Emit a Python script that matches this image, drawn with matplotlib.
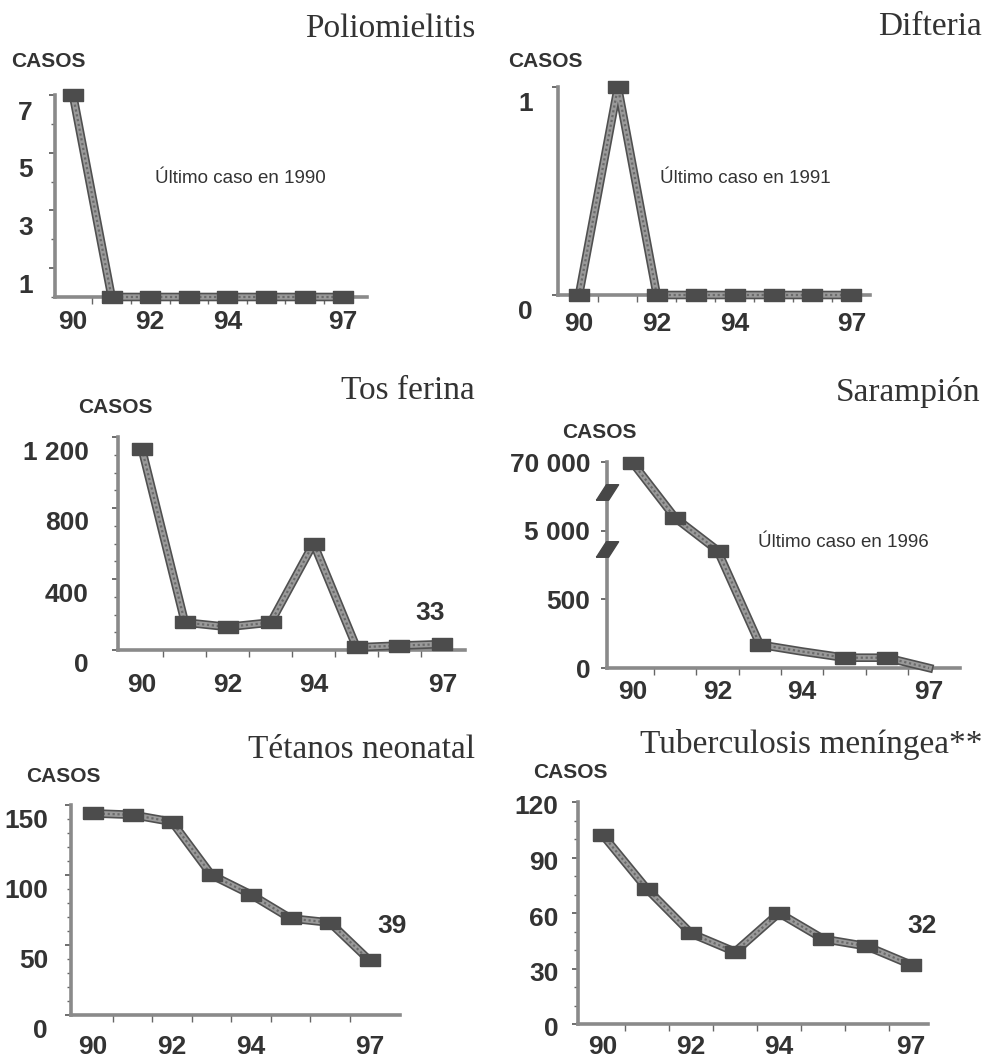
import numpy as np
import matplotlib
matplotlib.use("Agg")
import matplotlib.pyplot as plt
import matplotlib.patheffects as pe
from matplotlib import transforms

plt.rcParams["font.family"] = ["Liberation Sans", "DejaVu Sans"]

# casos por año, 1990-1997
years = [1990, 1991, 1992, 1993, 1994, 1995, 1996, 1997]
polio = [7, 0, 0, 0, 0, 0, 0, 0]
difteria = [0, 1, 0, 0, 0, 0, 0, 0]
tos_ferina = [1130, 155, 130, 155, 600, 15, 25, 33]
sarampion = [68800, 17000, 3700, 170, 120, 75, 75, 0]
tetanos = [144, 143, 138, 100, 86, 69, 66, 39]
tuberculosis = [102, 73, 49, 39, 60, 46, 42, 32]

year_ticks = [1990, 1992, 1994, 1997]
year_labels = ["90", "92", "94", "97"]

W, H = 985, 1057
fig = plt.figure(figsize=(W / 100, H / 100), dpi=100)
fig.patch.set_facecolor("white")

DARK = "#333333"
serif = ["Liberation Serif", "DejaVu Serif"]
box_marker = [(-1, -0.65), (1, -0.65), (1, 0.65), (-1, 0.65), (-1, -0.65)]
slant = [(-1, -0.7), (0.1, -0.7), (1, 0.7), (-0.1, 0.7), (-1, -0.7)]


def ftext(x, y, s, **kw):
    # x, y en pixeles de la figura (origen arriba a la izquierda)
    return fig.text(x / W, 1 - y / H, s, **kw)


def panel(box, x0, step, values, ylim, yticks, ylabels, ypad, ydrop, xpad,
          title, title_pos, casos_pos, minor=None, yscale=None, skip=()):
    left, right, bottom, top = box
    ax = fig.add_axes([left / W, 1 - bottom / H, (right - left) / W, (bottom - top) / H])
    ax.set_facecolor("none")
    if yscale is not None:
        ax.set_yscale("function", functions=yscale)

    ax.plot(years, values, color="#9a9a9a", lw=3.8, clip_on=False, zorder=3,
            solid_joinstyle="round",
            path_effects=[pe.Stroke(linewidth=6.2, foreground="#505050"), pe.Normal()])
    ax.plot(years, values, color="#6a6a6a", lw=1.6, ls=(0, (1, 1.2)), clip_on=False, zorder=3)
    keep = [i for i in range(len(years)) if i not in skip]
    ax.plot([years[i] for i in keep], [values[i] for i in keep], ls="none",
            marker=box_marker, ms=14, color="#4c4c4c", clip_on=False, zorder=4)

    ax.set_xlim(1990 + (left - x0) / step, 1990 + (right - x0) / step)
    ax.set_ylim(*ylim)

    for s in ["top", "right"]:
        ax.spines[s].set_visible(False)
    for s in ["left", "bottom"]:
        ax.spines[s].set_color("#8a8a8a")
        ax.spines[s].set_linewidth(2.6)

    ax.set_yticks(yticks, ylabels, fontsize=19, fontweight="bold", color=DARK)
    if minor is not None:
        ax.yaxis.set_minor_locator(plt.MultipleLocator(minor))
    ax.tick_params(axis="y", which="major", length=4, width=1.2, color="#555555", pad=ypad)
    ax.tick_params(axis="y", which="minor", length=3, width=1.0, color="#666666")

    ax.set_xticks(year_ticks, year_labels, fontsize=19, fontweight="bold", color=DARK)
    ax.set_xticks([y + 0.5 for y in years[:-1]], minor=True)
    ax.tick_params(axis="x", which="major", length=0, pad=xpad)
    ax.tick_params(axis="x", which="minor", length=5, width=1.0, color="#666666")

    shift = transforms.ScaledTranslation(0, -ydrop / 100, fig.dpi_scale_trans)
    for lab in ax.get_yticklabels():
        lab.set_transform(lab.get_transform() + shift)

    ftext(title_pos[0], title_pos[1], title, ha="right", va="baseline",
          fontsize=24, family=serif, color=DARK)
    ftext(casos_pos[0], casos_pos[1], "CASOS", ha="left", va="baseline",
          fontsize=15, fontweight="bold", color=DARK)
    return ax


# Poliomielitis
ax1 = panel((55, 367, 297, 95), 73, 38.6, polio, (0, 7), [1, 3, 5, 7],
            ["1", "3", "5", "7"], 12, 15, 9.5, "Poliomielitis", (475, 37), (11, 67), minor=1)
ax1.text(0.32, 0.565, "Último caso en 1990", transform=ax1.transAxes, fontsize=13.5,
         color=DARK, va="baseline")

# Difteria
ax2 = panel((558, 870, 295, 87), 579, 38.9, difteria, (0, 1), [0, 1], ["0", "1"],
            14, 14, 12, "Difteria", (982, 35), (508, 67))
ax2.text(0.327, 0.538, "Último caso en 1991", transform=ax2.transAxes, fontsize=13.5,
         color=DARK, va="baseline")

# Tos ferina
ax3 = panel((118, 465, 650, 437), 142, 42.9, tos_ferina, (0, 1200), [0, 400, 800, 1200],
            ["0", "400", "800", "1 200"], 17, 13, 16.5, "Tos ferina", (475, 399), (78, 413),
            minor=100)
ax3.annotate("33", (years[-1], tos_ferina[-1]), xytext=(-12, 24), textcoords="offset pixels",
             ha="center", va="baseline", fontsize=19, fontweight="bold", color=DARK)

# Sarampión (eje quebrado)
brk = [0, 500, 5000, 70000]
seg = [0, 1, 2, 3]
sar_scale = (lambda v: np.interp(v, brk, seg), lambda v: np.interp(v, seg, brk))
ax4 = panel((607, 960, 668, 462), 633, 42.3, sarampion, (0, 70000), [0, 500, 5000, 70000],
            ["0", "500", "5 000", "70 000"], 8, 0, 8.5, "Sarampión", (980, 401), (562, 438),
            yscale=sar_scale, skip=(4, 7))
ax4.plot([0, 0], [3800, 42000], transform=ax4.get_yaxis_transform(), ls="none",
         marker=slant, ms=16, color="#474747", clip_on=False, zorder=5)
ax4.text(0.428, 0.585, "Último caso en 1996", transform=ax4.transAxes, fontsize=13.5,
         color=DARK, va="baseline")

# Tétanos neonatal
ax5 = panel((71, 400, 1015, 805), 93, 39.5, tetanos, (0, 150), [0, 50, 100, 150],
            ["0", "50", "100", "150"], 12.5, 13, 14.4, "Tétanos neonatal", (475, 758), (26, 782),
            minor=10)
ax5.annotate("39", (years[-1], tetanos[-1]), xytext=(23, 27), textcoords="offset pixels",
             ha="center", va="baseline", fontsize=19, fontweight="bold", color=DARK)

# Tuberculosis meníngea
ax6 = panel((578, 928, 1024, 802), 603, 44, tuberculosis, (0, 120), [0, 30, 60, 90, 120],
            ["0", "30", "60", "90", "120"], 10, 3, 8, "Tuberculosis meníngea**", (983, 753),
            (533, 778), minor=10)
ax6.annotate("32", (years[-1], tuberculosis[-1]), xytext=(11, 32), textcoords="offset pixels",
             ha="center", va="baseline", fontsize=19, fontweight="bold", color=DARK)

fig.savefig("out.png", dpi=100, facecolor="white")
